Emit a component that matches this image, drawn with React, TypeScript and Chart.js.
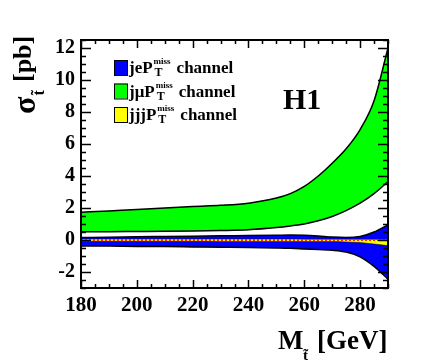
import React, { useEffect, useRef } from "react";
import { Chart, registerables } from "chart.js";

Chart.register(...registerables);

// Stop mass points (GeV)
const masses = [180, 190, 200, 210, 220, 230, 240, 250, 255, 260, 265, 270, 275, 280, 285, 290];
// j mu PTmiss channel band
const jmuUpper = [1.73, 1.82, 1.9, 2.0, 2.1, 2.17, 2.3, 2.62, 2.9, 3.35, 4.0, 4.8, 5.7, 6.9, 8.7, 12.0];
const jmuLower = [0.52, 0.52, 0.53, 0.54, 0.56, 0.59, 0.64, 0.78, 0.88, 1.0, 1.2, 1.47, 1.84, 2.3, 2.9, 3.65];
// j e PTmiss channel band
const jeUpper = [0.15, 0.17, 0.2, 0.22, 0.24, 0.26, 0.28, 0.3, 0.31, 0.3, 0.25, 0.18, 0.15, 0.22, 0.5, 0.95];
const jeLower = [-0.37, -0.38, -0.4, -0.41, -0.43, -0.45, -0.47, -0.5, -0.52, -0.56, -0.6, -0.64, -0.75, -1.05, -1.65, -2.45];
// jjj PTmiss channel band
const jjjUpper = [0.06, 0.06, 0.06, 0.06, 0.06, 0.06, 0.06, 0.06, 0.06, 0.05, 0.05, 0.05, 0.05, 0.04, 0.04, 0.03];
const jjjLower = [-0.08, -0.08, -0.08, -0.08, -0.08, -0.09, -0.09, -0.09, -0.09, -0.1, -0.1, -0.1, -0.12, -0.16, -0.25, -0.35];
// central dotted line
const centralLine = [0, 0, 0, 0, 0, 0, 0, 0, 0, 0, 0, 0, 0, 0, 0, 0];

const xTickValues = [180, 200, 220, 240, 260, 280];
const yTickValues = [-2, 0, 2, 4, 6, 8, 10, 12];

const legendLabels = [
  { pre: "je", color: "#0000ff" },
  { pre: "j\u03bc", color: "#00ff00" },
  { pre: "jjj", color: "#ffff00" },
];

const SERIF = "'Liberation Serif', 'Times New Roman', serif";

const pts = (ys: number[]) => masses.map((x, i) => ({ x, y: ys[i] }));

const decorPlugin = {
  id: "decor",
  afterDraw(chart: any) {
    const { ctx, chartArea } = chart;
    const xs = chart.scales.x;
    const ys = chart.scales.y;
    const { left, right, top, bottom } = chartArea;
    ctx.save();
    ctx.strokeStyle = "#000";
    ctx.lineWidth = 1.5;
    // ticks
    ctx.beginPath();
    for (let v = -3; v <= 12.5 + 1e-9; v += 0.5) {
      const py = Math.round(ys.getPixelForValue(v)) + 0.5;
      const major = Math.abs(v / 2 - Math.round(v / 2)) < 1e-9;
      const len = major ? 10 : 5;
      ctx.moveTo(left, py);
      ctx.lineTo(left + len, py);
      ctx.moveTo(right, py);
      ctx.lineTo(right - len, py);
    }
    for (let v = 180; v <= 290; v += 5) {
      const px = Math.round(xs.getPixelForValue(v)) + 0.5;
      const major = (v - 180) % 20 === 0;
      const len = major ? 8 : 4;
      ctx.moveTo(px, bottom);
      ctx.lineTo(px, bottom - len);
      ctx.moveTo(px, top);
      ctx.lineTo(px, top + len);
    }
    ctx.stroke();
    // frame
    ctx.lineWidth = 2;
    ctx.strokeRect(left, top, right - left, bottom - top);

    ctx.fillStyle = "#000";
    ctx.textBaseline = "alphabetic";
    ctx.textAlign = "left";

    // legend
    legendLabels.forEach((lab, i) => {
      const boxTop = 60 + i * 23.5;
      const base = boxTop + 13;
      ctx.fillStyle = lab.color;
      ctx.fillRect(114, boxTop, 13, 15);
      ctx.strokeStyle = "#000";
      ctx.lineWidth = 1;
      ctx.strokeRect(114.5, boxTop + 0.5, 13, 15);
      ctx.fillStyle = "#000";
      ctx.font = `bold 17px ${SERIF}`;
      let x = 129;
      const t1 = lab.pre + "P";
      ctx.fillText(t1, x, base);
      x += ctx.measureText(t1).width + 1;
      ctx.font = `bold 9px ${SERIF}`;
      ctx.fillText("miss", x, base - 9);
      const wSup = ctx.measureText("miss").width;
      ctx.font = `bold 12px ${SERIF}`;
      ctx.fillText("T", x + 1, base + 3);
      x += wSup + 6;
      ctx.font = `bold 17px ${SERIF}`;
      ctx.fillText("channel", x, base);
    });

    // H1
    ctx.font = `bold 30px ${SERIF}`;
    ctx.fillText("H1", 283, 108.5);

    // x title
    ctx.font = `bold 27px ${SERIF}`;
    ctx.fillText("M", 278, 349);
    ctx.font = `bold 15px ${SERIF}`;
    ctx.fillText("t\u0303", 303, 360);
    ctx.font = `bold 27px ${SERIF}`;
    ctx.fillText("[GeV]", 317, 349);

    // y title (rotated)
    ctx.save();
    ctx.translate(35, 114);
    ctx.rotate(-Math.PI / 2);
    ctx.font = `bold 32px ${SERIF}`;
    ctx.fillText("\u03c3", 0, 0);
    const ws = ctx.measureText("\u03c3").width;
    ctx.font = `bold 16px ${SERIF}`;
    ctx.fillText("t\u0303", ws + 1, 9);
    ctx.font = `bold 26px ${SERIF}`;
    ctx.fillText("[pb]", 32, -4);
    ctx.restore();

    ctx.restore();
  },
};

export default function App() {
  const ref = useRef<HTMLCanvasElement | null>(null);
  useEffect(() => {
    if (!ref.current) return;
    const black = "#000";
    const common = {
      pointRadius: 0,
      borderWidth: 1.5,
      borderColor: black,
      cubicInterpolationMode: "monotone" as const,
    };
    const chart = new Chart(ref.current, {
      type: "line",
      data: {
        datasets: [
          {
            label: "central",
            data: pts(centralLine),
            pointRadius: 0,
            borderWidth: 2,
            borderColor: "#ff2a00",
            borderDash: [2, 2],
            fill: false,
          },
          { label: "jjj lower", data: pts(jjjLower), ...common, borderWidth: 0.5, fill: false },
          {
            label: "jjj upper",
            data: pts(jjjUpper),
            ...common,
            borderWidth: 0.5,
            fill: "-1",
            backgroundColor: "#ffff00",
          },
          { label: "je lower", data: pts(jeLower), ...common, fill: false },
          {
            label: "je upper",
            data: pts(jeUpper),
            ...common,
            fill: "-1",
            backgroundColor: "#0000ff",
          },
          { label: "jmu lower", data: pts(jmuLower), ...common, fill: false },
          {
            label: "jmu upper",
            data: pts(jmuUpper),
            ...common,
            fill: "-1",
            backgroundColor: "#00ff00",
          },
        ],
      },
      options: {
        animation: false,
        responsive: false,
        events: [],
        layout: { padding: { left: 0, right: 48, top: 40, bottom: 0 } },
        plugins: { legend: { display: false }, tooltip: { enabled: false } },
        scales: {
          x: {
            type: "linear",
            min: 180,
            max: 290,
            grid: { display: false, drawTicks: false },
            border: { display: false },
            ticks: {
              color: "#000",
              padding: 5,
              maxRotation: 0,
              autoSkip: false,
              font: { family: SERIF, size: 21, weight: "bold" },
            },
            afterBuildTicks: (s: any) => {
              s.ticks = xTickValues.map((v) => ({ value: v }));
            },
            afterFit: (s: any) => {
              s.height = 75;
            },
          },
          y: {
            type: "linear",
            min: -3,
            max: 12.5,
            grid: { display: false, drawTicks: false },
            border: { display: false },
            ticks: {
              color: "#000",
              padding: 6,
              autoSkip: false,
              font: { family: SERIF, size: 20, weight: "bold" },
            },
            afterBuildTicks: (s: any) => {
              s.ticks = yTickValues.map((v) => ({ value: v }));
            },
            afterFit: (s: any) => {
              s.width = 81;
            },
          },
        },
      },
      plugins: [decorPlugin],
    });
    return () => chart.destroy();
  }, []);
  return (
    <div style={{ position: "absolute", left: 0, top: 0, width: 436, height: 363, background: "#fff" }}>
      <canvas ref={ref} width={436} height={363} style={{ display: "block" }} />
    </div>
  );
}
